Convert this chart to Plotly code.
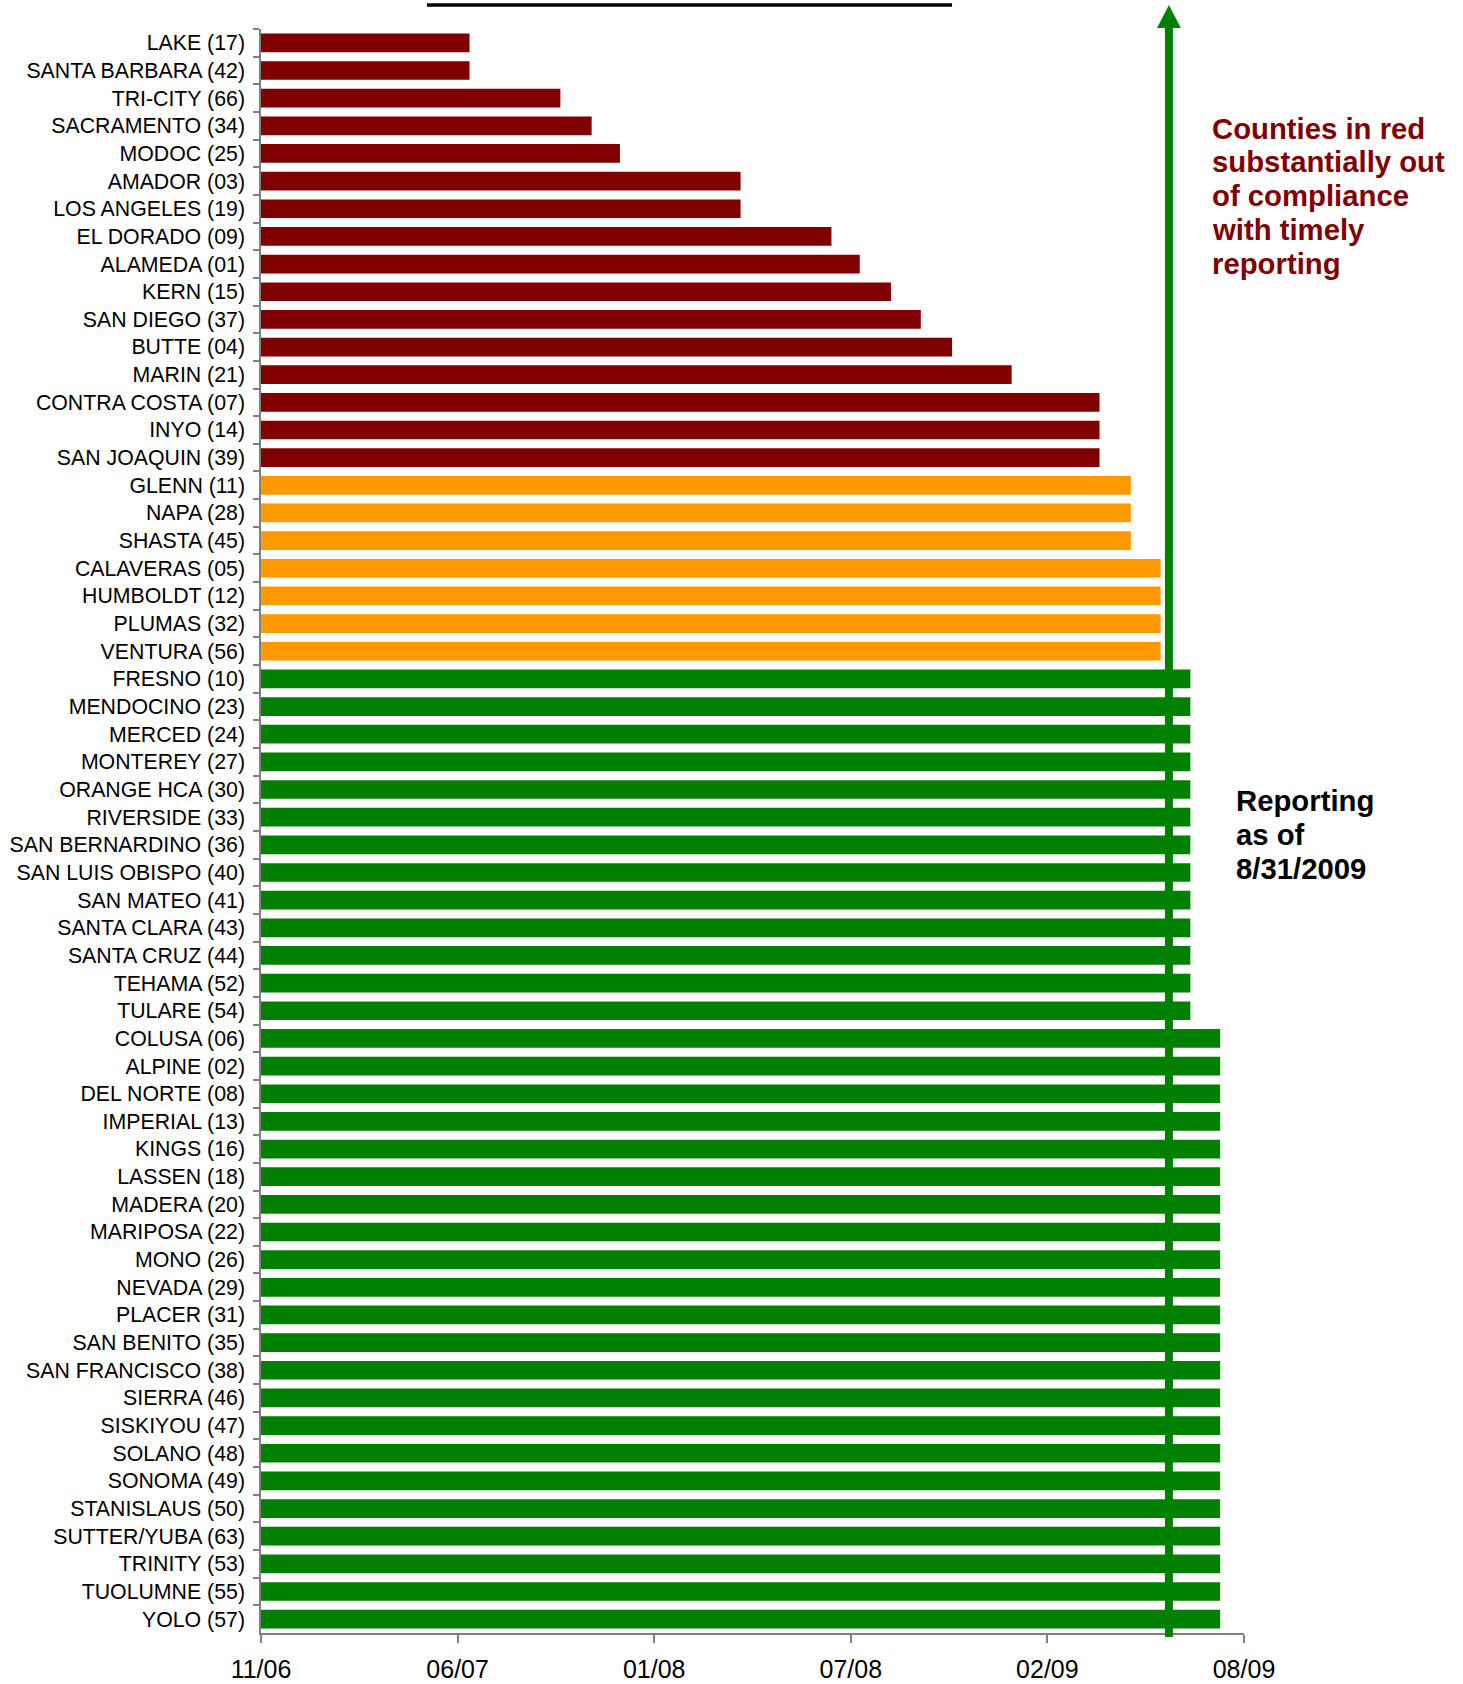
import plotly.graph_objects as go

counties = [
    "LAKE (17)", "SANTA BARBARA (42)", "TRI-CITY (66)", "SACRAMENTO (34)", "MODOC (25)",
    "AMADOR (03)", "LOS ANGELES (19)", "EL DORADO (09)", "ALAMEDA (01)", "KERN (15)",
    "SAN DIEGO (37)", "BUTTE (04)", "MARIN (21)", "CONTRA COSTA (07)", "INYO (14)",
    "SAN JOAQUIN (39)", "GLENN (11)", "NAPA (28)", "SHASTA (45)", "CALAVERAS (05)",
    "HUMBOLDT (12)", "PLUMAS (32)", "VENTURA (56)", "FRESNO (10)", "MENDOCINO (23)",
    "MERCED (24)", "MONTEREY (27)", "ORANGE HCA (30)", "RIVERSIDE (33)", "SAN BERNARDINO (36)",
    "SAN LUIS OBISPO (40)", "SAN MATEO (41)", "SANTA CLARA (43)", "SANTA CRUZ (44)", "TEHAMA (52)",
    "TULARE (54)", "COLUSA (06)", "ALPINE (02)", "DEL NORTE (08)", "IMPERIAL (13)",
    "KINGS (16)", "LASSEN (18)", "MADERA (20)", "MARIPOSA (22)", "MONO (26)",
    "NEVADA (29)", "PLACER (31)", "SAN BENITO (35)", "SAN FRANCISCO (38)", "SIERRA (46)",
    "SISKIYOU (47)", "SOLANO (48)", "SONOMA (49)", "STANISLAUS (50)", "SUTTER/YUBA (63)",
    "TRINITY (53)", "TUOLUMNE (55)", "YOLO (57)",
]

months_reported = [
    7.0, 7.0, 10.05, 11.1, 12.05,
    16.1, 16.1, 19.15, 20.1, 21.15,
    22.15, 23.2, 25.2, 28.15, 28.15,
    28.15, 29.2, 29.2, 29.2, 30.2,
    30.2, 30.2, 30.2, 31.2, 31.2,
    31.2, 31.2, 31.2, 31.2, 31.2,
    31.2, 31.2, 31.2, 31.2, 31.2,
    31.2, 32.2, 32.2, 32.2, 32.2,
    32.2, 32.2, 32.2, 32.2, 32.2,
    32.2, 32.2, 32.2, 32.2, 32.2,
    32.2, 32.2, 32.2, 32.2, 32.2,
    32.2, 32.2, 32.2,
]

status = (["out"] * 16) + (["partial"] * 7) + (["current"] * 35)

status_colors = {"out": "#800000", "partial": "#FF9900", "current": "#008000"}

tick_months = [0, 6.6, 13.2, 19.8, 26.4, 33]
tick_labels = ["11/06", "06/07", "01/08", "07/08", "02/09", "08/09"]

note_red_lines = ["Counties in red", "substantially out", "of compliance", "with timely", "reporting"]
note_black_lines = ["Reporting", "as of", "8/31/2009"]

arrow_month = 30.48

FONT = "Liberation Sans, Arial, sans-serif"

# plot-area geometry (pixels) used for placing the free text
PLOT_L, PLOT_W, PLOT_B, PLOT_H = 261, 983, 1633, 1604


def px_x(p):
    return (p - PLOT_L) / PLOT_W


def px_y(p):
    return (PLOT_B - p) / PLOT_H


fig = go.Figure()
fig.add_trace(go.Bar(
    y=counties,
    x=months_reported,
    orientation="h",
    marker=dict(color=[status_colors[s] for s in status], line=dict(width=0)),
    hoverinfo="x+y",
))

fig.update_layout(
    width=1463, height=1684,
    margin=dict(l=261, r=219, t=29, b=51, pad=0),
    paper_bgcolor="white", plot_bgcolor="white",
    bargap=0.324,
    showlegend=False,
    font=dict(family=FONT, color="black"),
)

fig.update_xaxes(
    range=[0, 33],
    tickvals=tick_months, ticktext=tick_labels,
    showgrid=False, zeroline=False,
    showline=True, linecolor="#808080", linewidth=1.5,
    ticks="outside", ticklen=8, tickcolor="#808080", tickwidth=1.5,
    tickfont=dict(size=25, family=FONT, color="black"),
    ticklabelstandoff=5,
    automargin=False,
)
fig.update_yaxes(
    autorange="reversed",
    showgrid=False, zeroline=False,
    showline=True, linecolor="#808080", linewidth=1.5,
    ticks="outside", ticklen=6, tickcolor="#808080", tickwidth=1.5,
    tickson="boundaries",
    tickfont=dict(size=21.3, family=FONT, color="black"),
    ticklabelstandoff=10,
    automargin=False,
)

# green arrow
fig.add_shape(type="line", xref="x", yref="paper",
              x0=arrow_month, x1=arrow_month, y0=-0.0025, y1=1.001,
              line=dict(color="#008000", width=8), layer="above")
fig.add_shape(type="path", xref="x", yref="paper",
              path=f"M {arrow_month-0.40},1.0006 L {arrow_month+0.40},1.0006 L {arrow_month},1.0150 Z",
              fillcolor="#008000", line=dict(color="#008000", width=0), layer="above")

# top black line
fig.add_shape(type="line", xref="paper", yref="paper",
              x0=0.1689, x1=0.703, y0=1.0150, y1=1.0150,
              line=dict(color="black", width=3.5))

for i, line in enumerate(note_red_lines):
    fig.add_annotation(
        xref="paper", yref="paper", x=px_x(1210), y=px_y(128 + i * 33.9),
        xanchor="left", yanchor="middle", align="left", showarrow=False,
        text=line,
        font=dict(size=29.3, family=FONT, color="#800000", weight="bold"),
    )
for i, line in enumerate(note_black_lines):
    fig.add_annotation(
        xref="paper", yref="paper", x=px_x(1234), y=px_y(800.5 + i * 33.8),
        xanchor="left", yanchor="middle", align="left", showarrow=False,
        text=line,
        font=dict(size=29.3, family=FONT, color="black", weight="bold"),
    )

fig.write_html(
    "out.html",
    config={"displayModeBar": False},
    post_script="document.body.style.margin='0';document.body.style.overflow='hidden';",
)
